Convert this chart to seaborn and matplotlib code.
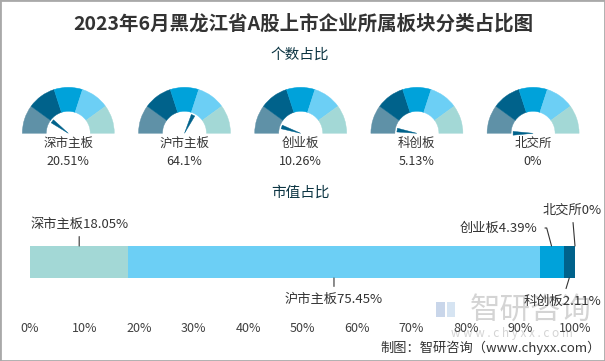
import numpy as np
import pandas as pd
import matplotlib
matplotlib.use("Agg")
import matplotlib.pyplot as plt
from matplotlib.patches import Wedge, Polygon, Rectangle
import seaborn as sns

# ---------------- data ----------------
categories = ["深市主板", "沪市主板", "创业板", "科创板", "北交所"]
count_share = [20.51, 64.1, 10.26, 5.13, 0.0]
count_labels = ["20.51%", "64.1%", "10.26%", "5.13%", "0%"]
value_share = [18.05, 75.45, 4.39, 2.11, 0.0]
value_labels = ["18.05%", "75.45%", "4.39%", "2.11%", "0%"]
x_ticks = [0, 10, 20, 30, 40, 50, 60, 70, 80, 90, 100]
x_tick_labels = ["0%", "10%", "20%", "30%", "40%", "50%", "60%", "70%", "80%", "90%", "100%"]

gauge_colors = ["#5f91a7", "#00628b", "#00a2da", "#6ccff5", "#a3d8d6"]
bar_colors = ["#a3d8d6", "#6ccff5", "#00a2da", "#00628b", "#00628b"]

# ---------------- style ----------------
sns.set_theme(style="white")
plt.rcParams["font.family"] = ["Noto Sans CJK SC", "DejaVu Sans"]
TXT = "#333333"
HEAD = "#0b3442"

W, H = 605, 361
fig = plt.figure(figsize=(W / 100, H / 100), dpi=100)
fig.patch.set_facecolor("white")


def px_axes(x0, y0, w, h):
    ax = fig.add_axes([x0 / W, 1 - (y0 + h) / H, w / W, h / H])
    ax.patch.set_alpha(0)
    return ax


def fy(y):
    return 1 - y / H


# border
fig.patches.append(Rectangle((0, 0), 1, 1, transform=fig.transFigure, fill=False,
                             edgecolor="#a9a9a9", lw=2, zorder=10))

# titles
fig.text(303 / W, fy(24), "2023年6月黑龙江省A股上市企业所属板块分类占比图", ha="center", va="center",
         fontsize=14, fontweight="bold", color="#333333")
fig.text(300 / W, fy(55), "个数占比", ha="center", va="center", fontsize=10.5, color=HEAD)
fig.text(300 / W, fy(193), "市值占比", ha="center", va="center", fontsize=10.5, color=HEAD)

# watermark
fig.text(531 / W, fy(310), "智研咨询", ha="center", va="center", fontsize=22,
         color="#d4d4d4", zorder=-1)
fig.text(512 / W, fy(334), "w w w . c h y x x . c o m", ha="center", va="center", fontsize=8.5,
         color="#d4d4d4", zorder=-1)
fig.patches.append(Rectangle((436 / W, fy(317)), 9 / W, 15 / H, transform=fig.transFigure,
                             facecolor="#c9d6ea", edgecolor="none", zorder=-1))
fig.patches.append(Rectangle((447 / W, fy(317)), 8 / W, 15 / H, transform=fig.transFigure,
                             facecolor="#d6e4f2", edgecolor="none", zorder=-1))

# footer
fig.text(601 / W, fy(348), "制图：智研咨询（www.chyxx.com）", ha="right", va="center",
         fontsize=9.5, color=TXT)

# ---------------- gauges ----------------
R_OUT, R_IN = 46, 22
for i, (cat, val, lab) in enumerate(zip(categories, count_share, count_labels)):
    cx = 68.3 + 116.2 * i
    ax = px_axes(cx - 55, 133.3 - 48, 110, 80)
    ax.set_xlim(-55, 55)
    ax.set_ylim(-32, 48)
    ax.axis("off")
    n = len(gauge_colors)
    step = 180 / n
    for k, c in enumerate(gauge_colors):
        ax.add_patch(Wedge((0, 0), R_OUT, 180 - step * (k + 1), 180 - step * k,
                           width=R_OUT - R_IN, facecolor=c, edgecolor=c, lw=0.3))
    th = np.pi * (1 - val / 100)
    r, hw = 20, 1.9
    pts = [(0, 0),
           (r * np.cos(th) - hw * np.sin(th), r * np.sin(th) + hw * np.cos(th)),
           (r * np.cos(th) + hw * np.sin(th), r * np.sin(th) - hw * np.cos(th))]
    ax.add_patch(Polygon(pts, closed=True, facecolor="#00628b", edgecolor="#00628b", lw=0.3))
    ax.text(0, -10, cat, ha="center", va="center", fontsize=9, color=TXT)
    ax.text(0, -27.7, lab, ha="center", va="center", fontsize=9, color=TXT)

# ---------------- stacked bar ----------------
axb = px_axes(30, 242, 545, 40)
cum = np.cumsum(value_share)
df = pd.DataFrame({"板块": categories, "end": cum, "row": ["市值"] * len(categories)})
for k in reversed(range(len(categories))):
    sns.barplot(data=df.iloc[[k]], x="end", y="row", orient="h", color=bar_colors[k],
                saturation=1, width=0.8, errorbar=None, linewidth=0, ax=axb)
axb.set_xlim(0, 100)
axb.set_ylim(0.5, -0.5)
for s in axb.spines.values():
    s.set_visible(False)
axb.set_xlabel("")
axb.set_ylabel("")
axb.set_yticks([])
axb.set_xticks(x_ticks)
axb.set_xticklabels(x_tick_labels)
axb.tick_params(axis="x", length=0, pad=29, labelsize=9, labelcolor="#404040")

starts = np.concatenate([[0], cum[:-1]])
mids = starts + np.array(value_share) / 2
ann = dict(xycoords=("data", "axes fraction"), textcoords="offset pixels",
           fontsize=9.5, color=TXT, va="center")
lp = dict(arrowstyle="-", color="#333333", lw=0.8, shrinkB=0)

# 深市主板 (above)
axb.annotate(categories[0] + value_labels[0], xy=(mids[0], 0.9), xytext=(0, 22), ha="center",
             arrowprops=dict(lp, shrinkA=2), **ann)
# 沪市主板 (below)
axb.annotate(categories[1] + value_labels[1], xy=(mids[1], 0.1), xytext=(0, -21), ha="center",
             arrowprops=dict(lp, shrinkA=2), **ann)
# 创业板 (above, left, with elbow)
axb.annotate(categories[2] + value_labels[2], xy=(mids[2], 0.9), xytext=(-14, 18), ha="right",
             arrowprops=dict(lp, shrinkA=3, relpos=(1, 0.5),
                             connectionstyle="angle,angleA=0,angleB=105,rad=0"), **ann)
# 科创板 (below)
axb.annotate(categories[3] + value_labels[3], xy=(mids[3], 0.1), xytext=(-7, -23), ha="center",
             arrowprops=dict(lp, shrinkA=2), **ann)
# 北交所 (above)
axb.annotate(categories[4] + value_labels[4], xy=(mids[4], 0.9), xytext=(-3, 36), ha="center",
             arrowprops=dict(lp, shrinkA=2), **ann)

fig.savefig("out.png", dpi=100, facecolor="white")
